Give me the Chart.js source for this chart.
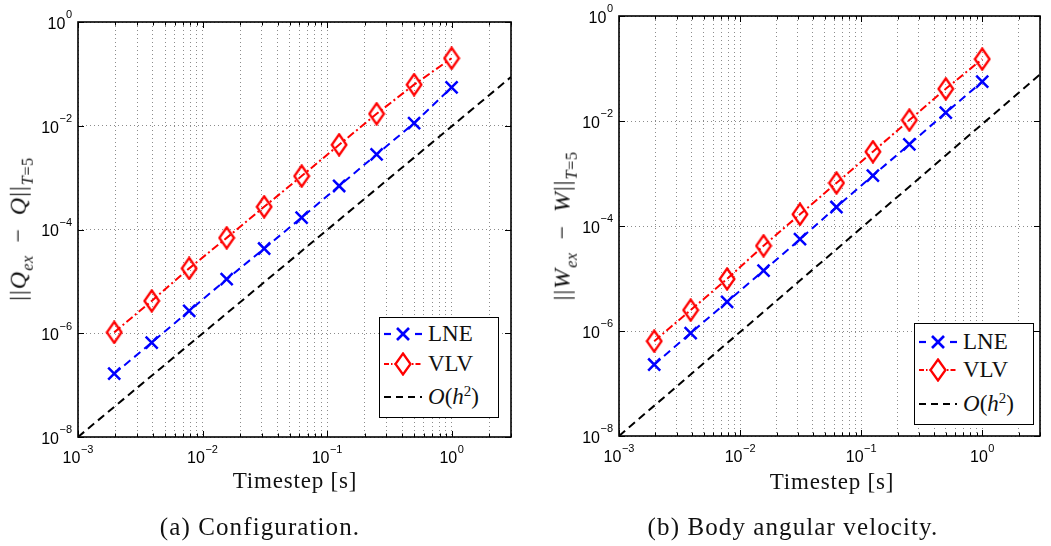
<!DOCTYPE html>
<html><head><meta charset="utf-8">
<script src="https://cdn.jsdelivr.net/npm/chart.js@4.4.1/dist/chart.umd.min.js"></script>
<style>
html,body{margin:0;padding:0;background:#fff;}
#wrap{position:relative;width:1051px;height:546px;overflow:hidden;background:#fff;}
canvas{position:absolute;top:0;}
.serif{font-family:"Liberation Serif","Times New Roman",serif;color:#111;}
.ylab{position:absolute;white-space:nowrap;font-size:24px;letter-spacing:1px;transform:translate(-50%,-50%) rotate(-90deg);}
.ylab sub{font-size:68%;vertical-align:-0.4em;letter-spacing:0.5px;}
.xlab{position:absolute;white-space:nowrap;font-size:23px;letter-spacing:0.8px;transform:translate(-50%,-50%);}
.cap{position:absolute;white-space:nowrap;font-size:25px;letter-spacing:1.1px;transform:translate(-50%,-50%);}
.legend{position:absolute;border:1.5px solid #000;background:#fff;box-sizing:border-box;}
.legend .row{position:absolute;left:3px;height:30px;display:flex;align-items:center;font-size:23px;transform:translateY(-50%);}
.legend svg{margin-right:5px;}
.legend sup{font-size:65%;vertical-align:0.55em;line-height:0;}
</style>
</head><body>
<div id="wrap">
<canvas id="c1" width="525" height="546" style="left:0px"></canvas>
<canvas id="c2" width="526" height="546" style="left:525px"></canvas>

<div class="ylab serif" style="left:21px;top:229px">||<i>Q</i><sub><i>ex</i></sub>&thinsp; − &thinsp;<i>Q</i>||<sub><i>T</i>=5</sub></div>
<div class="ylab serif" style="left:565px;top:226px">||<i>W</i><sub><i>ex</i></sub>&thinsp; − &thinsp;<i>W</i>||<sub><i>T</i>=5</sub></div>

<div class="xlab serif" style="left:295px;top:481px">Timestep [s]</div>
<div class="xlab serif" style="left:832px;top:482px">Timestep [s]</div>

<div class="cap serif" style="left:260px;top:527px">(a) Configuration.</div>
<div class="cap serif" style="left:793px;top:527px">(b) Body angular velocity.</div>

<div class="legend serif" id="leg1" style="left:379px;top:317px;width:120px;height:101px"></div>
<div class="legend serif" id="leg2" style="left:914px;top:323px;width:120px;height:102px"></div>
</div>
<script>
// ---- data ----
const timesteps = [0.001953125, 0.00390625, 0.0078125, 0.015625, 0.03125, 0.0625, 0.125, 0.25, 0.5, 1];
const lneConfig = [1.66e-7, 6.6e-7, 2.7e-6, 1.1e-5, 4.3e-5, 1.7e-4, 6.9e-4, 2.8e-3, 1.12e-2, 5.5e-2];
const vlvConfig = [1.04e-6, 4.2e-6, 1.78e-5, 6.9e-5, 2.74e-4, 1.07e-3, 4.3e-3, 1.7e-2, 6.2e-2, 2.0e-1];
const lneVel = [2.3e-7, 9.1e-7, 3.6e-6, 1.41e-5, 5.6e-5, 2.3e-4, 9.1e-4, 3.6e-3, 1.44e-2, 5.6e-2];
const vlvVel = [6.4e-7, 2.5e-6, 9.8e-6, 4.2e-5, 1.67e-4, 6.6e-4, 2.6e-3, 1.04e-2, 4.1e-2, 1.51e-1];
const refX = [0.001, 3];
const refConfig = [1e-8, 8.7e-2];
const refVel = [1e-8, 7.7e-2];
const seriesNames = ['LNE', 'VLV', 'O(h²)'];
const xMajor = [0.001, 0.01, 0.1, 1];
const xMajorExp = ['−3', '−2', '−1', '0'];
const xMinor = [0.002,0.003,0.004,0.005,0.006,0.007,0.008,0.009,
                0.02,0.03,0.04,0.05,0.06,0.07,0.08,0.09,
                0.2,0.3,0.4,0.5,0.6,0.7,0.8,0.9,2,3];
const yMajor = [1e-8, 1e-6, 1e-4, 1e-2, 1];
const yMajorExp = ['−8', '−6', '−4', '−2', '0'];

const BLUE = '#0000ff', RED = '#ff0000', BLACK = '#000000';
const TICK_FONT = '"Liberation Sans", Arial, sans-serif';

function near(a, b){ return Math.abs(a - b) / b < 1e-6; }
function idxOf(list, v){ return list.findIndex(t => near(v, t)); }

function diamondCanvas(){
  const c = document.createElement('canvas'); c.width = 18; c.height = 24;
  const g = c.getContext('2d'); g.strokeStyle = RED; g.lineWidth = 2.3; g.lineJoin='miter';
  g.beginPath(); g.moveTo(9, 1.5); g.lineTo(16.3, 12); g.lineTo(9, 22.5); g.lineTo(1.7, 12); g.closePath(); g.stroke();
  return c;
}
const diamond = diamondCanvas();

// draws "10" with a raised exponent; align: 'center' or 'right'; cy = vertical centre of the "10" digits
function drawPow(ctx, exp, x, cy, align){
  ctx.font = '16px ' + TICK_FONT;
  const wb = ctx.measureText('10').width;
  ctx.font = '11px ' + TICK_FONT;
  const we = ctx.measureText(exp).width;
  const total = wb + we + 0.5;
  const x0 = align === 'center' ? x - total / 2 : x - total;
  const base = cy + 5.8;
  ctx.textAlign = 'left'; ctx.textBaseline = 'alphabetic'; ctx.fillStyle = '#000';
  ctx.font = '16px ' + TICK_FONT;
  ctx.fillText('10', x0, base);
  ctx.font = '11px ' + TICK_FONT;
  ctx.fillText(exp, x0 + wb + 0.5, base - 10.5);
}

const framePlugin = {
  id: 'frame',
  afterDraw(chart){
    const {ctx, chartArea: a, scales} = chart;
    ctx.save();
    ctx.strokeStyle = '#000'; ctx.lineWidth = 1;
    ctx.beginPath();
    scales.x.ticks.forEach(t => {
      const px = Math.round(scales.x.getPixelForValue(t.value)) + 0.5;
      const len = idxOf(xMajor, t.value) >= 0 ? 6 : 3.5;
      ctx.moveTo(px, a.bottom); ctx.lineTo(px, a.bottom - len);
      ctx.moveTo(px, a.top); ctx.lineTo(px, a.top + len);
    });
    scales.y.ticks.forEach(t => {
      const py = Math.round(scales.y.getPixelForValue(t.value)) + 0.5;
      ctx.moveTo(a.left, py); ctx.lineTo(a.left + 6, py);
      ctx.moveTo(a.right, py); ctx.lineTo(a.right - 6, py);
    });
    ctx.stroke();
    ctx.lineWidth = 1.6;
    ctx.strokeRect(a.left, a.top, a.right - a.left, a.bottom - a.top);
    // tick labels from the scales' own ticks
    scales.x.ticks.forEach(t => {
      const i = idxOf(xMajor, t.value);
      if (i >= 0) drawPow(ctx, xMajorExp[i], scales.x.getPixelForValue(t.value), a.bottom + 20.5, 'center');
    });
    scales.y.ticks.forEach(t => {
      const i = idxOf(yMajor, t.value);
      if (i >= 0) drawPow(ctx, yMajorExp[i], a.left - 6, scales.y.getPixelForValue(t.value) + 1, 'right');
    });
    ctx.restore();
  }
};

function makeChart(id, lne, vlv, ref, pad, yWidth, xHeight){
  const pts = (xs, ys) => xs.map((x, i) => ({x, y: ys[i]}));
  return new Chart(document.getElementById(id), {
    type: 'line',
    data: { datasets: [
      { label: seriesNames[2], data: pts(refX, ref), borderColor: BLACK, borderWidth: 2, borderDash: [8, 5], pointRadius: 0, fill: false },
      { label: seriesNames[0], data: pts(timesteps, lne), borderColor: BLUE, borderWidth: 2, borderDash: [8, 5], pointStyle: 'crossRot', pointRadius: 8.5, pointBorderWidth: 2.5, pointBorderColor: BLUE, fill: false },
      { label: seriesNames[1], data: pts(timesteps, vlv), borderColor: RED, borderWidth: 2, borderDash: [8, 3, 2, 3], pointStyle: diamond, pointRadius: 9, fill: false }
    ]},
    options: {
      responsive: false, animation: false, devicePixelRatio: 1,
      layout: { padding: pad },
      plugins: { legend: { display: false }, tooltip: { enabled: false } },
      scales: {
        x: {
          type: 'logarithmic', min: 0.001, max: 3,
          afterBuildTicks: s => { s.ticks = xMajor.concat(xMinor).sort((a,b)=>a-b).map(v => ({value: v, major: idxOf(xMajor, v) >= 0})); },
          afterFit: s => { s.height = xHeight; },
          ticks: { display: false, autoSkip: false, maxRotation: 0 },
          grid: { color: 'rgba(0,0,0,0.45)', drawTicks: false, lineWidth: 1 },
          border: { display: false, dash: [1, 3] }
        },
        y: {
          type: 'logarithmic', min: 1e-8, max: 1,
          afterBuildTicks: s => { s.ticks = yMajor.map(v => ({value: v, major: true})); },
          afterFit: s => { s.width = yWidth; },
          ticks: { display: false, autoSkip: false },
          grid: { color: 'rgba(0,0,0,0.45)', drawTicks: false, lineWidth: 1 },
          border: { display: false, dash: [1, 3] }
        }
      }
    },
    plugins: [framePlugin]
  });
}

makeChart('c1', lneConfig, vlvConfig, refConfig, {left: 0, right: 14, top: 22, bottom: 0}, 78, 109);
makeChart('c2', lneVel, vlvVel, refVel, {left: 0, right: 9, top: 16, bottom: 0}, 94, 110);

// ---- legends ----
function legendHTML(rows){
  const sym = [
    '<svg width="40" height="22"><line x1="1" y1="11" x2="8" y2="11" stroke="'+BLUE+'" stroke-width="2.2"/><line x1="32" y1="11" x2="39" y2="11" stroke="'+BLUE+'" stroke-width="2.2"/><line x1="14" y1="5" x2="26" y2="17" stroke="'+BLUE+'" stroke-width="2.6"/><line x1="26" y1="5" x2="14" y2="17" stroke="'+BLUE+'" stroke-width="2.6"/></svg>',
    '<svg width="40" height="24"><line x1="1" y1="12" x2="39" y2="12" stroke="'+RED+'" stroke-width="1.8" stroke-dasharray="5,2,1.5,2"/><path d="M20 1.5 L27.5 12 L20 22.5 L12.5 12 Z" fill="#fff" stroke="'+RED+'" stroke-width="2.3"/></svg>',
    '<svg width="40" height="22"><line x1="1" y1="11" x2="39" y2="11" stroke="'+BLACK+'" stroke-width="2.2" stroke-dasharray="7,5"/></svg>'
  ];
  const txt = [seriesNames[0], seriesNames[1], '<i>O</i>(<i>h</i><sup>2</sup>)'];
  return rows.map((y, i) => '<div class="row" style="top:' + y + 'px">' + sym[i] + '<span>' + txt[i] + '</span></div>').join('');
}
document.getElementById('leg1').innerHTML = legendHTML([16, 46, 79]);
document.getElementById('leg2').innerHTML = legendHTML([18, 46, 80]);
</script>
</body></html>
